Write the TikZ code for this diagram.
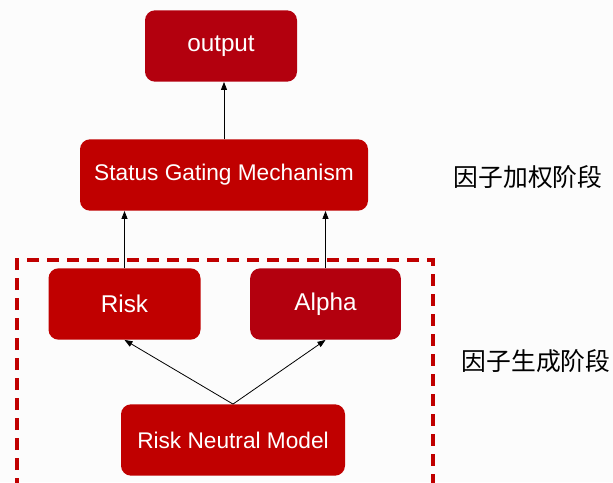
\documentclass[tikz,border=0pt]{standalone}
\usepackage{fontspec}
\usepackage{xcolor}
\setmainfont{Liberation Sans}
\newfontfamily\cjk{Noto Sans CJK SC}
\usetikzlibrary{arrows.meta}
\definecolor{boxred}{HTML}{C00000}
\definecolor{darkred}{HTML}{B3000E}

\begin{document}
\begin{tikzpicture}[x=0.75pt, y=-0.75pt,
    box/.style = {shape=rectangle, rounded corners=7.5pt,
      fill=boxred, text=white, align=center,
      minimum height=53.5pt, inner sep=0pt,
      font=\fontsize{18.2}{20}\selectfont},
    arr/.style = {-{Triangle[length=6pt,width=4.5pt]}, line width=0.6pt},
    stage/.style = {font=\cjk\fontsize{18.6}{20}\selectfont}]
    \useasboundingbox[fill=gray!2] (0,0) rectangle (613,482);
    \node[box, fill=darkred, minimum width=114pt] (output) at (221,46) {output};
    \node[box, minimum width=216pt, font=\fontsize{17}{20}\selectfont] (sgm) at (224,175) {Status Gating Mechanism};
    \node[box, minimum width=114pt] (risk) at (124.5,304) {Risk};
    \node[box, fill=darkred, minimum width=113pt] (alpha) at (325.5,304) {Alpha};
    \node[box, minimum width=168pt, font=\fontsize{17}{20}\selectfont] (rnm) at (233,440) {Risk Neutral Model};
    \node[stage] (weight) at (528,177) {因子加权阶段};
    \node[stage] (gen) at (536,361) {因子生成阶段};
    % dashed frame, open at the bottom
    \draw[boxred, line width=2.3pt, dash pattern=on 9pt off 6pt]
        (17,490) |- (433,260) -- (433,490);
    \draw[arr] (sgm.north) -- (sgm.north |- output.south);
    \draw[arr] (risk.north) -- (risk.north |- sgm.south);
    \draw[arr] (alpha.north) -- (alpha.north |- sgm.south);
    \draw[arr] (rnm.north) -- (risk.south);
    \draw[arr] (rnm.north) -- (alpha.south);
\end{tikzpicture}
\end{document}
